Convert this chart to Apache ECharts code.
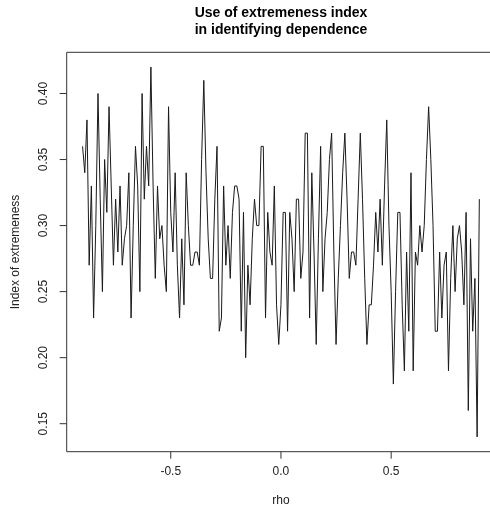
<!DOCTYPE html>
<html>
<head>
<meta charset="utf-8">
<script src="https://cdn.jsdelivr.net/npm/echarts@6/dist/echarts.min.js"></script>
<style>
html,body{margin:0;padding:0;background:#fff;}
#chart{width:490px;height:512px;}
</style>
</head>
<body>
<div id="chart"></div>
<script>
const titleText = "Use of extremeness index\nin identifying dependence";
const xName = "rho";
const yName = "Index of extremeness";
const xTicks = [-0.5, 0.0, 0.5];
const yTicks = [0.15, 0.20, 0.25, 0.30, 0.35, 0.40];

const rho = [-0.90,-0.89,-0.88,-0.87,-0.86,-0.85,-0.84,-0.83,-0.82,-0.81,
-0.80,-0.79,-0.78,-0.77,-0.76,-0.75,-0.74,-0.73,-0.72,-0.71,
-0.70,-0.69,-0.68,-0.67,-0.66,-0.65,-0.64,-0.63,-0.62,-0.61,
-0.60,-0.59,-0.58,-0.57,-0.56,-0.55,-0.54,-0.53,-0.52,-0.51,
-0.50,-0.49,-0.48,-0.47,-0.46,-0.45,-0.44,-0.43,-0.42,-0.41,
-0.40,-0.39,-0.38,-0.37,-0.36,-0.35,-0.34,-0.33,-0.32,-0.31,
-0.30,-0.29,-0.28,-0.27,-0.26,-0.25,-0.24,-0.23,-0.22,-0.21,
-0.20,-0.19,-0.18,-0.17,-0.16,-0.15,-0.14,-0.13,-0.12,-0.11,
-0.10,-0.09,-0.08,-0.07,-0.06,-0.05,-0.04,-0.03,-0.02,-0.01,
0.00,0.01,0.02,0.03,0.04,0.05,0.06,0.07,0.08,0.09,
0.10,0.11,0.12,0.13,0.14,0.15,0.16,0.17,0.18,0.19,
0.20,0.21,0.22,0.23,0.24,0.25,0.26,0.27,0.28,0.29,
0.30,0.31,0.32,0.33,0.34,0.35,0.36,0.37,0.38,0.39,
0.40,0.41,0.42,0.43,0.44,0.45,0.46,0.47,0.48,0.49,
0.50,0.51,0.52,0.53,0.54,0.55,0.56,0.57,0.58,0.59,
0.60,0.61,0.62,0.63,0.64,0.65,0.66,0.67,0.68,0.69,
0.70,0.71,0.72,0.73,0.74,0.75,0.76,0.77,0.78,0.79,
0.80,0.81,0.82,0.83,0.84,0.85,0.86,0.87,0.88,0.89,
0.90];

const extremeness = [0.36,0.34,0.38,0.27,0.33,0.23,0.30,0.40,0.32,0.25,
0.35,0.31,0.39,0.33,0.27,0.32,0.28,0.33,0.27,0.29,
0.30,0.34,0.23,0.30,0.36,0.33,0.25,0.40,0.32,0.36,
0.33,0.42,0.33,0.26,0.33,0.29,0.30,0.27,0.25,0.39,
0.31,0.28,0.34,0.27,0.23,0.29,0.24,0.34,0.30,0.27,
0.27,0.28,0.28,0.27,0.35,0.41,0.34,0.29,0.26,0.26,
0.32,0.36,0.22,0.23,0.33,0.27,0.30,0.26,0.31,0.33,
0.33,0.32,0.22,0.31,0.20,0.27,0.24,0.29,0.32,0.30,
0.30,0.36,0.36,0.23,0.31,0.28,0.27,0.33,0.24,0.21,
0.24,0.31,0.31,0.22,0.31,0.29,0.25,0.32,0.32,0.26,
0.28,0.37,0.37,0.23,0.34,0.28,0.21,0.29,0.36,0.25,
0.29,0.31,0.35,0.37,0.28,0.21,0.26,0.30,0.34,0.37,
0.32,0.26,0.28,0.28,0.27,0.32,0.37,0.32,0.26,0.21,
0.24,0.24,0.27,0.31,0.28,0.32,0.27,0.33,0.38,0.30,
0.25,0.18,0.25,0.31,0.31,0.24,0.19,0.28,0.22,0.34,
0.19,0.28,0.27,0.30,0.28,0.30,0.35,0.39,0.35,0.30,
0.22,0.22,0.28,0.23,0.27,0.28,0.19,0.26,0.30,0.25,
0.29,0.30,0.28,0.24,0.31,0.16,0.29,0.22,0.26,0.14,
0.32];

const seriesData = rho.map((r, i) => [r, extremeness[i]]);
const txt = '#222';
const axisCol = '#333';
const fontFam = '"Liberation Sans", Arial, Helvetica, sans-serif';
const xRange = {min: -0.972, max: 0.972};
const yRange = {min: 0.1288, max: 0.4312};
const TICK_LEN = 7;

const chart = echarts.init(document.getElementById('chart'), null, {renderer: 'canvas'});
chart.setOption({
  animation: false,
  backgroundColor: '#fff',
  title: {
    text: titleText,
    left: 281,
    top: 5,
    padding: 0,
    textAlign: 'center',
    textStyle: {fontFamily: fontFam, fontWeight: 'bold', fontSize: 14, lineHeight: 17, color: '#000'}
  },
  grid: {
    left: 66.7, top: 52.3, width: 428.5, height: 399.4,
    show: true, borderColor: axisCol, borderWidth: 1, backgroundColor: 'transparent',
    outerBoundsMode: 'none', containLabel: false
  },
  xAxis: {
    type: 'value', ...xRange, position: 'bottom',
    name: xName, nameLocation: 'middle', nameGap: 43,
    nameTextStyle: {fontFamily: fontFam, fontSize: 12, color: txt},
    axisLine: {show: false, onZero: false},
    splitLine: {show: false},
    axisTick: {show: false},
    axisLabel: {show: true, customValues: xTicks, margin: 14, fontFamily: fontFam, fontSize: 12, color: txt,
      formatter: v => v.toFixed(1)}
  },
  yAxis: {
    type: 'value', ...yRange, position: 'left',
    name: yName, nameLocation: 'middle', nameGap: 45, nameRotate: 90,
    nameTextStyle: {fontFamily: fontFam, fontSize: 12, color: txt},
    axisLine: {show: false, onZero: false},
    splitLine: {show: false},
    axisTick: {show: false},
    axisLabel: {show: true, customValues: yTicks, rotate: 90, margin: 17, fontFamily: fontFam, fontSize: 12, color: txt,
      formatter: v => v.toFixed(2)}
  },
  series: [{
    type: 'line',
    data: seriesData,
    symbol: 'none',
    lineStyle: {color: '#1a1a1a', width: 1},
    silent: true
  }]
});

// Outward tick marks, placed through the axes' own scales (convertToPixel)
const tickEls = [];
xTicks.forEach(v => {
  const p = chart.convertToPixel({gridIndex: 0}, [v, yRange.min]);
  tickEls.push({type: 'line', silent: true, z: 10,
    shape: {x1: p[0], y1: p[1], x2: p[0], y2: p[1] + TICK_LEN},
    style: {stroke: axisCol, lineWidth: 1}});
});
yTicks.forEach(v => {
  const p = chart.convertToPixel({gridIndex: 0}, [xRange.min, v]);
  tickEls.push({type: 'line', silent: true, z: 10,
    shape: {x1: p[0], y1: p[1], x2: p[0] - TICK_LEN, y2: p[1]},
    style: {stroke: axisCol, lineWidth: 1}});
});
chart.setOption({graphic: {elements: tickEls}});
</script>
</body>
</html>
